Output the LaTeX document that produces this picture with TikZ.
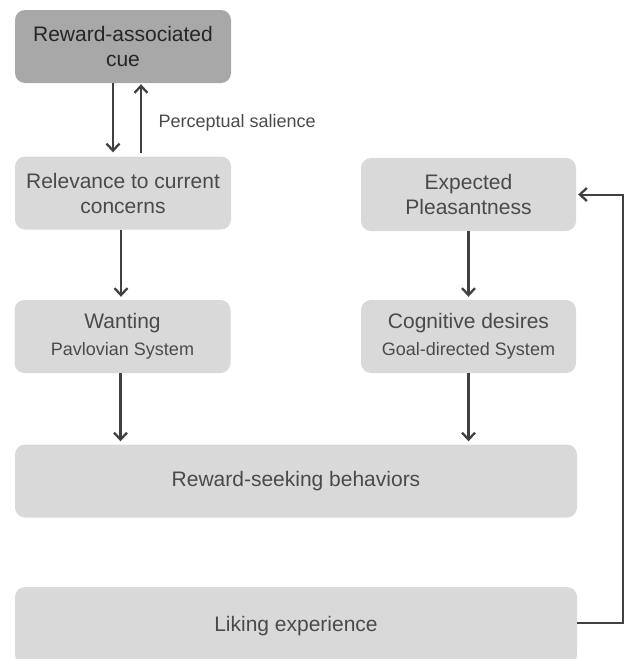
\documentclass[tikz,border=0pt]{standalone}
\usepackage{fontspec}
\setmainfont{Liberation Sans}
\usepackage{xcolor}
\definecolor{cuegray}{HTML}{A8A8A8}
\definecolor{boxgray}{HTML}{D9D9D9}
\definecolor{ink}{HTML}{404040}
\definecolor{txt}{HTML}{4A4A4A}
\usetikzlibrary{arrows.meta}
\usetikzlibrary{calc}
\newcommand{\bigtxt}{\fontsize{21}{25}\selectfont}
\newcommand{\subtxt}{\fontsize{18}{22}\selectfont}
\tikzset{
	box/.style={fill=boxgray, draw=none, rounded corners=10pt, align=center,
		text=txt, font=\bigtxt, minimum width=216pt, minimum height=73pt, inner sep=0pt},
	cuebox/.style={box, fill=cuegray, text=black!85},
	widebox/.style={box, minimum width=562pt, minimum height=73pt},
	arr/.style={draw=ink, line width=2.6pt, -{Straight Barb[length=7pt,width=13pt,line width=2.3pt]}, shorten >=3pt},
	note/.style={text=txt, font=\subtxt, anchor=west}
}

\begin{document}
\begin{tikzpicture}[x=1pt, y=-1pt]

	\useasboundingbox (0,0) rectangle (627,659);
	
	% left column
	\node[cuebox] (cue) at (123,46.5) {Reward-associated\\cue};
	\node[box] (relev) at (123,193) {Relevance to current\\concerns};
	\node[box] (want) at (122.5,336.5) {Wanting\\[2pt]{\subtxt Pavlovian System}};
	
	% right column
	\node[box, minimum width=215pt] (expect) at (468.5,194.5) {Expected\\Pleasantness};
	\node[box, minimum width=215pt] (cogn) at (468.5,336.5) {Cognitive desires\\[2pt]{\subtxt Goal-directed System}};
	
	% bottom rows
	\node[widebox] (seek) at (296,481) {Reward-seeking behaviors};
	\node[widebox, minimum height=78pt] (like) at (296,626) {Liking experience};
	
	% cue <-> relevance
	\draw[arr, shorten >=4pt] ([xshift=-10pt]cue.south) -- ([xshift=-10pt]cue.south |- relev.north);
	\draw[arr, shorten <=3pt, shorten >=1pt] ([xshift=18pt]cue.south |- relev.north) -- ([xshift=18pt]cue.south);
	\node[note] (salience) at (155,123) {Perceptual salience};
	
	% downward flow
	\draw[arr] ([xshift=-2pt]relev.south) -- ([xshift=-2pt]relev.south |- want.north);
	\draw[arr] ([xshift=-2pt]want.south) -- ([xshift=-2pt]want.south |- seek.north);
	\draw[arr] (expect.south) -- (expect.south |- cogn.north);
	\draw[arr] (cogn.south) -- (cogn.south |- seek.north);
	
	% feedback loop
	\coordinate (loop) at (623,623);
	\draw[arr, line width=2pt, shorten >=2pt] (like.east |- loop) -- (loop) |- (expect.east);

\end{tikzpicture}
\end{document}
